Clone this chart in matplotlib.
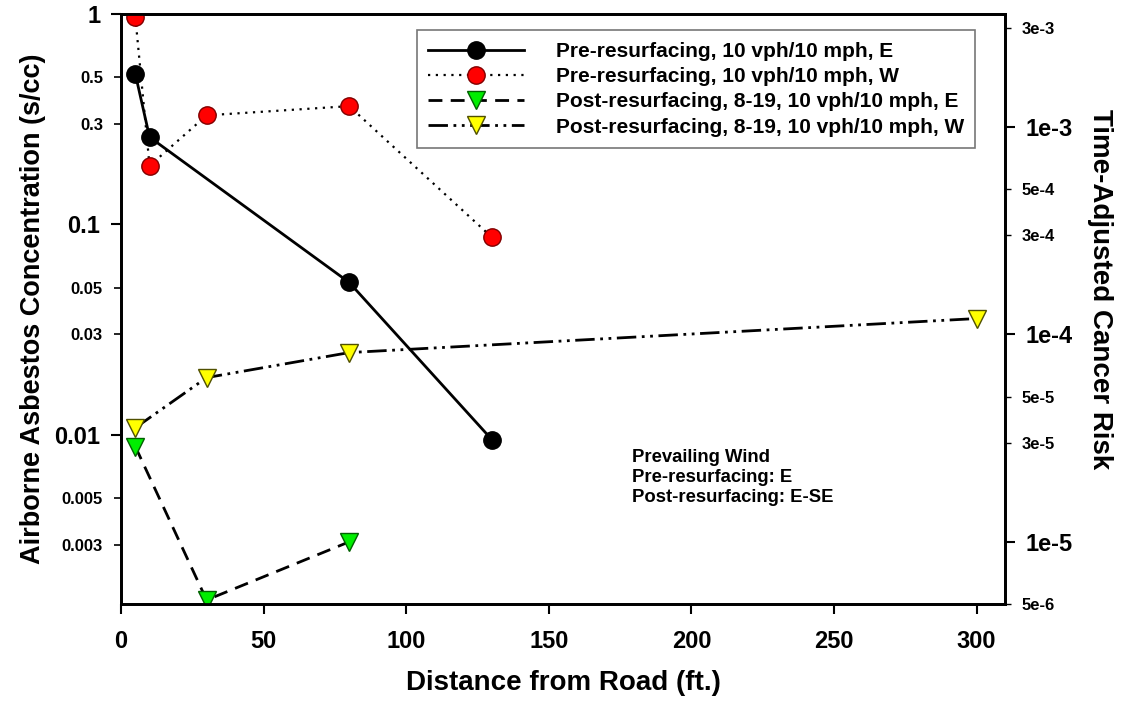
import matplotlib
matplotlib.use("Agg")
import matplotlib.pyplot as plt

plt.rcParams['font.family'] = ['Liberation Sans', 'DejaVu Sans']
plt.rcParams['font.weight'] = 'bold'

# distance from road (ft) and concentration (s/cc)
pre_e_x = [5, 10, 80, 130]
pre_e_y = [0.52, 0.26, 0.053, 0.0095]

pre_w_x = [5, 10, 30, 80, 130]
pre_w_y = [0.97, 0.19, 0.33, 0.365, 0.087]

post_e_x = [5, 30, 80]
post_e_y = [0.0088, 0.00164, 0.0031]

post_w_x = [5, 30, 80, 300]
post_w_y = [0.0108, 0.0187, 0.0246, 0.0357]

labels = ["Pre-resurfacing, 10 vph/10 mph, E",
          "Pre-resurfacing, 10 vph/10 mph, W",
          "Post-resurfacing, 8-19, 10 vph/10 mph, E",
          "Post-resurfacing, 8-19, 10 vph/10 mph, W"]

left_major = [0.01, 0.1, 1]
left_major_lbl = ["0.01", "0.1", "1"]
left_minor = [0.003, 0.005, 0.03, 0.05, 0.3, 0.5]
left_minor_lbl = ["0.003", "0.005", "0.03", "0.05", "0.3", "0.5"]

right_major = [1e-5, 1e-4, 1e-3]
right_major_lbl = ["1e-5", "1e-4", "1e-3"]
right_minor = [5e-6, 3e-5, 5e-5, 3e-4, 5e-4, 3e-3]
right_minor_lbl = ["5e-6", "3e-5", "5e-5", "3e-4", "5e-4", "3e-3"]

x_ticks = [0, 50, 100, 150, 200, 250, 300]

fig = plt.figure(figsize=(11.25, 7.02), dpi=100)
ax = fig.add_axes([0.1076, 0.1396, 0.7858, 0.8404])

ms = 12.5
ax.plot(pre_e_x, pre_e_y, color='black', lw=2, ls='-', marker='o', ms=ms,
        mfc='black', mec='black', label=labels[0], zorder=3)
ax.plot(pre_w_x, pre_w_y, color='black', lw=1.6, ls=(0, (1, 2.5)), marker='o', ms=ms,
        mfc='#ff0000', mec='#800000', mew=1, label=labels[1], zorder=3)
ax.plot(post_e_x, post_e_y, color='black', lw=2, ls=(0, (5, 3)), marker='v', ms=13,
        mfc='#00ee00', mec='#006000', mew=1, label=labels[2], zorder=3)
ax.plot(post_w_x, post_w_y, color='black', lw=2, ls=(0, (7, 2, 1, 2, 1, 2)), marker='v', ms=13,
        mfc='#ffff00', mec='#505000', mew=1, label=labels[3], zorder=3)

ax.set_yscale('log')
ax.set_xlim(0, 310)
ax.set_ylim(0.00157, 1.0)
ax.set_xticks(x_ticks)
ax.set_xticklabels([str(t) for t in x_ticks], fontsize=17, fontweight='bold')
ax.set_yticks(left_major)
ax.set_yticklabels(left_major_lbl, fontsize=17, fontweight='bold')
ax.set_yticks(left_minor, minor=True)
ax.set_yticklabels(left_minor_lbl, minor=True, fontsize=12, fontweight='bold')
ax.tick_params(axis='both', which='major', direction='out', length=7, width=1.5, pad=8)
ax.tick_params(axis='y', which='minor', direction='out', length=5, width=1.2, pad=8)
ax.tick_params(axis='x', pad=12)

for sp in ax.spines.values():
    sp.set_linewidth(2)

ax.set_xlabel("Distance from Road (ft.)", fontsize=20, fontweight='bold', labelpad=12)
ax.set_ylabel("Airborne Asbestos Concentration (s/cc)", fontsize=19.5, fontweight='bold',
              labelpad=6)

ax2 = ax.twinx()
ax2.set_yscale('log')
ax2.set_ylim(5e-6, 3.5e-3)
ax2.set_yticks(right_major)
ax2.set_yticklabels(right_major_lbl, fontsize=17, fontweight='bold')
ax2.set_yticks(right_minor, minor=True)
ax2.set_yticklabels(right_minor_lbl, minor=True, fontsize=12, fontweight='bold')
ax2.tick_params(axis='y', which='major', direction='out', length=7, width=1.5, pad=8)
ax2.tick_params(axis='y', which='minor', direction='out', length=4, width=1, pad=8)
ax2.set_ylabel("Time-Adjusted Cancer Risk", fontsize=20, fontweight='bold', rotation=-90)
ax2.yaxis.set_label_coords(1.122, 0.534)
for sp in ax2.spines.values():
    sp.set_linewidth(2)

leg = ax.legend(loc='upper right', bbox_to_anchor=(0.978, 0.99), fontsize=15,
                handlelength=4.6, frameon=True, fancybox=False, edgecolor='#555555',
                borderpad=0.55, labelspacing=0.3, handletextpad=1.5)
leg.get_frame().set_linewidth(1.2)
for t in leg.get_texts():
    t.set_fontweight('bold')

ax.text(0.578, 0.262, "Prevailing Wind\nPre-resurfacing: E\nPost-resurfacing: E-SE",
        transform=ax.transAxes, fontsize=13.3, fontweight='bold', va='top', ha='left',
        linespacing=1.2)

fig.savefig("out.png", dpi=100)
